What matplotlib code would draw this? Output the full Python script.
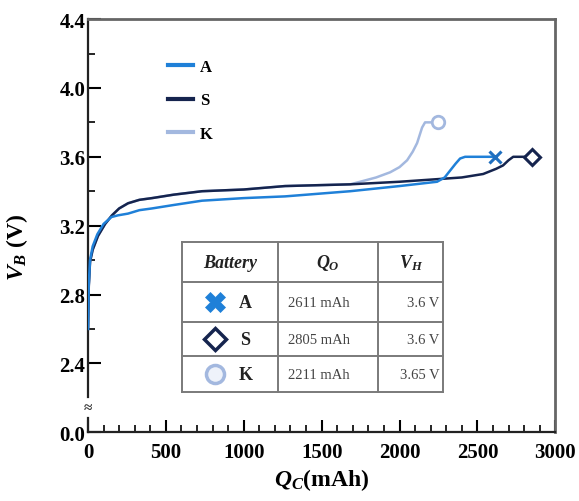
#!/usr/bin/env python3
"""
Charge curves V_B vs Q_C for three batteries (A, S, K)
"""
import matplotlib
matplotlib.use('Agg')
import matplotlib.pyplot as plt
from matplotlib.lines import Line2D
from matplotlib.ticker import FixedLocator, FuncFormatter

# serif look like the original figure
plt.rcParams['font.family'] = ['Liberation Serif', 'DejaVu Serif']
plt.rcParams['font.weight'] = 'bold'
plt.rcParams['mathtext.fontset'] = 'custom'
plt.rcParams['mathtext.rm'] = 'Liberation Serif:bold'
plt.rcParams['mathtext.it'] = 'Liberation Serif:italic:bold'
plt.rcParams['mathtext.bf'] = 'Liberation Serif:bold'

# ---- data ----
q_a = [0, 5, 13, 30, 60, 100, 150, 193, 257, 330, 411, 550, 732, 1000, 1265,
       1683, 2000, 2241, 2290, 2325, 2360, 2389, 2421, 2500, 2611]
v_a = [2.60, 2.86, 3.00, 3.08, 3.15, 3.21, 3.25, 3.26, 3.27, 3.29, 3.30, 3.32,
       3.345, 3.36, 3.37, 3.40, 3.43, 3.455, 3.48, 3.52, 3.56, 3.59, 3.60, 3.60, 3.60]

q_s = [0, 5, 13, 30, 64, 110, 154, 200, 257, 330, 411, 550, 732, 1000, 1265,
       1683, 2000, 2241, 2400, 2537, 2620, 2665, 2700, 2730, 2760, 2800, 2852]
v_s = [2.60, 2.85, 2.99, 3.06, 3.14, 3.21, 3.26, 3.30, 3.33, 3.35, 3.36, 3.38,
       3.40, 3.41, 3.43, 3.44, 3.455, 3.47, 3.48, 3.50, 3.53, 3.55, 3.58, 3.60,
       3.60, 3.60, 3.60]

q_k = [0, 5, 13, 30, 64, 110, 154, 200, 257, 330, 411, 550, 732, 1000, 1265,
       1683, 1747, 1850, 1940, 2000, 2049, 2085, 2113, 2145, 2164, 2200, 2248]
v_k = [2.60, 2.85, 2.99, 3.06, 3.14, 3.21, 3.26, 3.30, 3.33, 3.35, 3.36, 3.38,
       3.40, 3.41, 3.43, 3.44, 3.455, 3.48, 3.51, 3.54, 3.58, 3.63, 3.68, 3.77,
       3.80, 3.80, 3.80]

batteries = ['A', 'S', 'K']
q_o = ['2611 mAh', '2805 mAh', '2211 mAh']
v_h = ['3.6 V', '3.6 V', '3.65 V']

y_ticks = [2.0, 2.4, 2.8, 3.2, 3.6, 4.0, 4.4]
y_tick_labels = ['0.0', '2.4', '2.8', '3.2', '3.6', '4.0', '4.4']

C_A = '#1f80d8'
C_S = '#15244e'
C_K = '#a3b8df'


def draw_table(ax):
    """inset table with the markers"""
    tr = ax.transAxes
    xs = [0.201, 0.407, 0.621, 0.760]
    ys = [0.460, 0.363, 0.266, 0.184, 0.097]
    lc = '#7a7a7a'
    for y in ys:
        ax.add_line(Line2D([xs[0], xs[-1]], [y, y], transform=tr, color=lc, lw=1.4, zorder=5))
    for x in xs:
        ax.add_line(Line2D([x, x], [ys[0], ys[-1]], transform=tr, color=lc, lw=1.4, zorder=5))

    yh = (ys[0] + ys[1]) / 2
    ax.text((xs[0] + xs[1]) / 2, yh, 'Battery', transform=tr, ha='center', va='center',
            fontsize=13, style='italic', fontweight='bold', color='#222222')
    ax.text((xs[1] + xs[2]) / 2, yh, r'$Q_O$', transform=tr, ha='center', va='center',
            fontsize=13, color='#222222')
    ax.text((xs[2] + xs[3]) / 2, yh, r'$V_H$', transform=tr, ha='center', va='center',
            fontsize=13, color='#222222')

    markers = [dict(marker='X', ms=14, mfc=C_A, mec=C_A, mew=0.5),
               dict(marker='D', ms=11, mfc='white', mec=C_S, mew=2.5),
               dict(marker='o', ms=13, mfc='#eef2fa', mec=C_K, mew=2.5)]
    for i, name in enumerate(batteries):
        yc = (ys[i + 1] + ys[i + 2]) / 2
        ax.plot([0.271], [yc], transform=tr, clip_on=False, zorder=6, ls='none', **markers[i])
        ax.text(0.337, yc, name, transform=tr, ha='center', va='center',
                fontsize=13, fontweight='bold', color='#222222')
        ax.text(0.495, yc, q_o[i], transform=tr, ha='center', va='center',
                fontsize=10.5, fontweight='normal', color='#444444')
        ax.text(0.752, yc, v_h[i], transform=tr, ha='right', va='center',
                fontsize=10.5, fontweight='normal', color='#444444')


def main():
    fig = plt.figure(figsize=(5.79, 5.02), dpi=100)
    ax = fig.add_axes([0.152, 0.137, 0.807, 0.823])

    ax.plot(q_k, v_k, color=C_K, lw=1.8, label='K', zorder=2)
    ax.plot(q_s, v_s, color=C_S, lw=1.8, label='S', zorder=3)
    ax.plot(q_a, v_a, color=C_A, lw=1.8, label='A', zorder=4)

    # end markers
    ax.plot(q_a[-1], v_a[-1], 'x', color='#1f6fbf', ms=9, mew=2.2, zorder=5)
    ax.plot(q_s[-1], v_s[-1], 'D', mfc='white', mec=C_S, ms=8, mew=2.2, zorder=5)
    ax.plot(q_k[-1], v_k[-1], 'o', mfc='white', mec=C_K, ms=9, mew=2, zorder=5)

    ax.set_xlim(0, 3000)
    ax.set_ylim(2.0, 4.4)

    ax.xaxis.set_major_locator(FixedLocator([0, 500, 1000, 1500, 2000, 2500, 3000]))
    ax.xaxis.set_minor_locator(FixedLocator(range(0, 3001, 100)))
    ax.yaxis.set_major_locator(FixedLocator(y_ticks))
    ax.yaxis.set_minor_locator(FixedLocator([2.6, 3.0, 3.4, 3.8, 4.2]))
    ax.yaxis.set_major_formatter(FuncFormatter(lambda v, p: y_tick_labels[y_ticks.index(round(v, 1))]
                                               if round(v, 1) in y_ticks else ''))

    ax.tick_params(which='both', direction='in', top=False, right=False, labelsize=15)
    ax.tick_params(which='major', length=9, width=1.5)
    ax.tick_params(which='minor', length=5, width=1.2)
    ax.tick_params(axis='x', pad=7)
    ax.tick_params(axis='y', pad=2)

    for s in ['top', 'right']:
        ax.spines[s].set_color('#666666')
        ax.spines[s].set_linewidth(2.0)
    ax.spines['bottom'].set_linewidth(1.6)
    ax.spines['bottom'].set_color('#222222')

    # broken left axis
    ax.spines['left'].set_visible(False)
    tr = ax.transAxes
    ax.add_line(Line2D([0, 0], [0, 0.034], transform=tr, color='#222222', lw=1.6, clip_on=False))
    ax.add_line(Line2D([0, 0], [0.085, 1.0], transform=tr, color='#222222', lw=1.6, clip_on=False))
    ax.text(0, 0.06, '\u2248', transform=tr, ha='center', va='center', fontsize=11, color='#333333')

    ax.set_xlabel(r'$Q_C$(mAh)', fontsize=17, fontweight='bold', labelpad=3)
    ax.set_ylabel(r'$V_B$ (V)', fontsize=17, fontweight='bold')
    ax.yaxis.set_label_coords(-0.125, 0.45)

    handles, labels = ax.get_legend_handles_labels()
    order = [2, 1, 0]
    leg = ax.legend([handles[i] for i in order], [labels[i] for i in order],
                    loc='upper left', bbox_to_anchor=(0.14, 0.94), frameon=False,
                    handlelength=1.5, handletextpad=0.4, labelspacing=1.05,
                    prop={'family': 'Liberation Serif', 'weight': 'bold', 'size': 12})
    for line in leg.get_lines():
        line.set_linewidth(3)

    draw_table(ax)

    fig.savefig('out.png', dpi=100)
    plt.close(fig)


if __name__ == '__main__':
    main()
